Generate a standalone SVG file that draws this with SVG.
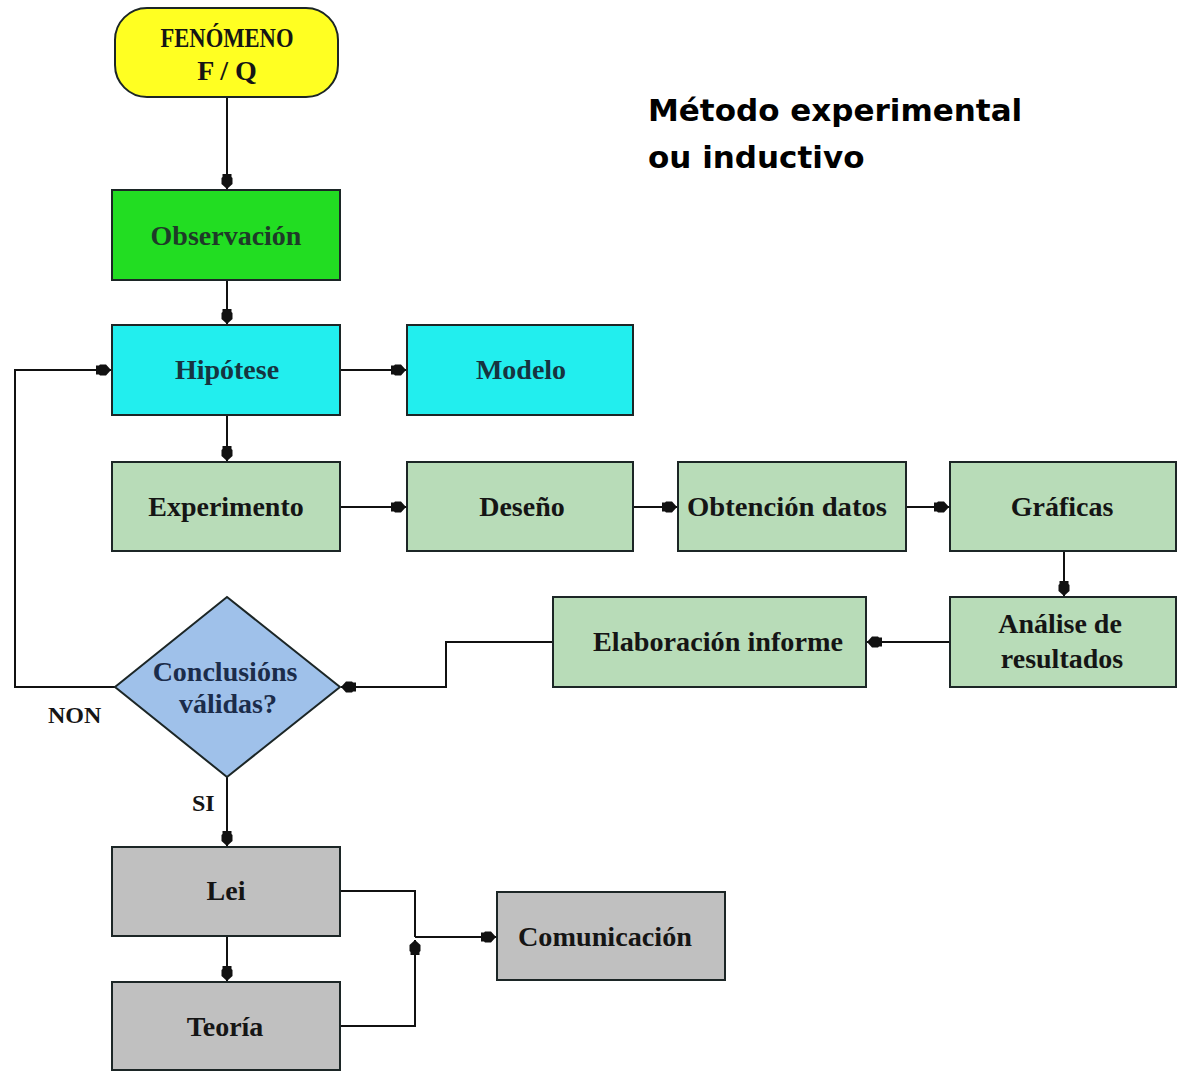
<svg xmlns="http://www.w3.org/2000/svg" width="1183" height="1073" viewBox="0 0 1183 1073">
<style>
.box{stroke:#1c2626;stroke-width:2}
.t{font-family:"Liberation Serif","Times New Roman",serif;font-weight:bold;font-size:28px;fill:#151515;text-anchor:middle}
.lbl{font-family:"Liberation Serif","Times New Roman",serif;font-weight:bold;font-size:24px;fill:#151515}
.title{font-family:"DejaVu Sans",sans-serif;font-weight:bold;font-size:31px;fill:#000}
.c{fill:none;stroke:#111;stroke-width:2}
</style>
<defs>
<marker id="ah" markerUnits="userSpaceOnUse" markerWidth="18" markerHeight="14" refX="15" refY="7" orient="auto">
<path d="M0,2.5 L3,2.5 L4,1.5 L10,1.5 L15,7 L10,12.5 L4,12.5 L3,11.5 L0,11.5 Z" fill="#111"/>
</marker>
</defs>
<rect width="1183" height="1073" fill="#fff"/>
<g id="title">
<text class="title" x="648" y="121">Método experimental</text>
<text class="title" x="648" y="168">ou inductivo</text>
</g>
<g id="connectors">
<line class="c" x1="227" y1="97" x2="227" y2="189" marker-end="url(#ah)"/>
<line class="c" x1="227" y1="280" x2="227" y2="324" marker-end="url(#ah)"/>
<line class="c" x1="340" y1="370" x2="406" y2="370" marker-end="url(#ah)"/>
<line class="c" x1="227" y1="415" x2="227" y2="461" marker-end="url(#ah)"/>
<line class="c" x1="340" y1="507" x2="406" y2="507" marker-end="url(#ah)"/>
<line class="c" x1="633" y1="507" x2="677" y2="507" marker-end="url(#ah)"/>
<line class="c" x1="906" y1="507" x2="949" y2="507" marker-end="url(#ah)"/>
<line class="c" x1="1064" y1="551" x2="1064" y2="596" marker-end="url(#ah)"/>
<line class="c" x1="950" y1="642" x2="867" y2="642" marker-end="url(#ah)"/>
<polyline class="c" points="553,642 446,642 446,687 341,687" marker-end="url(#ah)"/>
<polyline class="c" points="115,687 15,687 15,370 111,370" marker-end="url(#ah)"/>
<line class="c" x1="227" y1="777" x2="227" y2="846" marker-end="url(#ah)"/>
<line class="c" x1="227" y1="936" x2="227" y2="981" marker-end="url(#ah)"/>
<polyline class="c" points="340,891 415,891 415,937"/>
<polyline class="c" points="340,1026 415,1026 415,940" marker-end="url(#ah)"/>
<line class="c" x1="415" y1="937" x2="496" y2="937" marker-end="url(#ah)"/>
<text class="lbl" x="48" y="723">NON</text>
<text class="lbl" x="192" y="811">SI</text>
</g>
<g id="fenomeno">
<rect class="box" x="115" y="8" width="223" height="89" rx="32" fill="#ffff22"/>
<text class="t" x="227" y="47" font-size="21" textLength="133" lengthAdjust="spacingAndGlyphs">FENÓMENO</text>
<text class="t" x="227" y="80" font-size="21">F / Q</text>
</g>
<g id="observacion">
<rect class="box" x="112" y="190" width="228" height="90" fill="#22dd22"/>
<text class="t" x="226" y="245" style="fill:#1e3a28">Observación</text>
</g>
<g id="hipotese">
<rect class="box" x="112" y="325" width="228" height="90" fill="#22eeee"/>
<text class="t" x="227" y="379" style="fill:#16343f">Hipótese</text>
</g>
<g id="modelo">
<rect class="box" x="407" y="325" width="226" height="90" fill="#22eeee"/>
<text class="t" x="521" y="379" style="fill:#16343f">Modelo</text>
</g>
<g id="experimento">
<rect class="box" x="112" y="462" width="228" height="89" fill="#b8dcb8"/>
<text class="t" x="226" y="516">Experimento</text>
</g>
<g id="deseno">
<rect class="box" x="407" y="462" width="226" height="89" fill="#b8dcb8"/>
<text class="t" x="522" y="516">Deseño</text>
</g>
<g id="obtencion">
<rect class="box" x="678" y="462" width="228" height="89" fill="#b8dcb8"/>
<text class="t" x="787" y="516" textLength="200" lengthAdjust="spacingAndGlyphs">Obtención datos</text>
</g>
<g id="graficas">
<rect class="box" x="950" y="462" width="226" height="89" fill="#b8dcb8"/>
<text class="t" x="1062" y="516">Gráficas</text>
</g>
<g id="analise">
<rect class="box" x="950" y="597" width="226" height="90" fill="#b8dcb8"/>
<text class="t" x="1060" y="633">Análise de</text>
<text class="t" x="1062" y="668">resultados</text>
</g>
<g id="elaboracion">
<rect class="box" x="553" y="597" width="313" height="90" fill="#b8dcb8"/>
<text class="t" x="718" y="651" textLength="250" lengthAdjust="spacingAndGlyphs">Elaboración informe</text>
</g>
<g id="conclusions">
<polygon class="box" points="227,597 340,687 227,777 115,687" fill="#9fc1ea"/>
<text class="t" x="225" y="681" style="fill:#1b2c4a">Conclusións</text>
<text class="t" x="228" y="713" style="fill:#1b2c4a">válidas?</text>
</g>
<g id="lei">
<rect class="box" x="112" y="847" width="228" height="89" fill="#c0c0c0"/>
<text class="t" x="226" y="900">Lei</text>
</g>
<g id="teoria">
<rect class="box" x="112" y="982" width="228" height="88" fill="#c0c0c0"/>
<text class="t" x="225" y="1036">Teoría</text>
</g>
<g id="comunicacion">
<rect class="box" x="497" y="892" width="228" height="88" fill="#c0c0c0"/>
<text class="t" x="605" y="946" textLength="174" lengthAdjust="spacingAndGlyphs">Comunicación</text>
</g>
</svg>
